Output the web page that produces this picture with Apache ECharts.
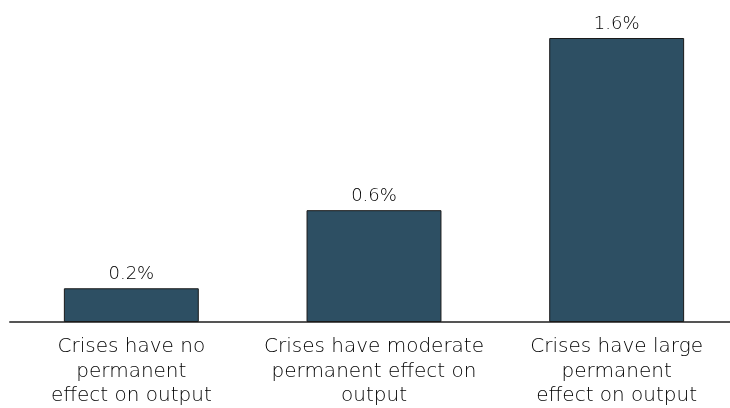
<!DOCTYPE html>
<html><head><meta charset="utf-8">
<script src="https://cdn.jsdelivr.net/npm/echarts@6/dist/echarts.min.js"></script>
<style>html,body{margin:0;padding:0;background:#fff}#c{width:730px;height:408px}</style>
</head><body><div id="c"></div>
<script>
const categories = ["Crises have no\npermanent\neffect on output", "Crises have moderate\npermanent effect on\noutput", "Crises have large\npermanent\neffect on output"];
const values = [0.19, 0.63, 1.6];
const chart = echarts.init(document.getElementById('c'));
chart.setOption({
  animation: false,
  grid: {left: 10, width: 728, top: 38, bottom: 86, outerBoundsMode: 'none', containLabel: false},
  xAxis: {
    type: 'category', data: categories,
    axisLine: {lineStyle: {color: '#555', width: 2}},
    axisTick: {show: false},
    axisLabel: {color: '#000', fontSize: 20, lineHeight: 24.5, margin: 13, interval: 0, fontFamily: '"DejaVu Sans", sans-serif', fontWeight: 200}
  },
  yAxis: {type: 'value', min: 0, max: 1.6, show: false, splitLine: {show: false}},
  series: [{
    type: 'bar', data: values, barWidth: '55.6%',
    itemStyle: {color: '#2d4f63', borderColor: '#1a1a1a', borderWidth: 1},
    label: {show: true, position: 'top', distance: 5, color: '#000', fontSize: 18, fontFamily: '"DejaVu Sans", sans-serif', fontWeight: 200,
      formatter: p => p.value.toFixed(1) + '%'}
  }]
});
</script></body></html>
